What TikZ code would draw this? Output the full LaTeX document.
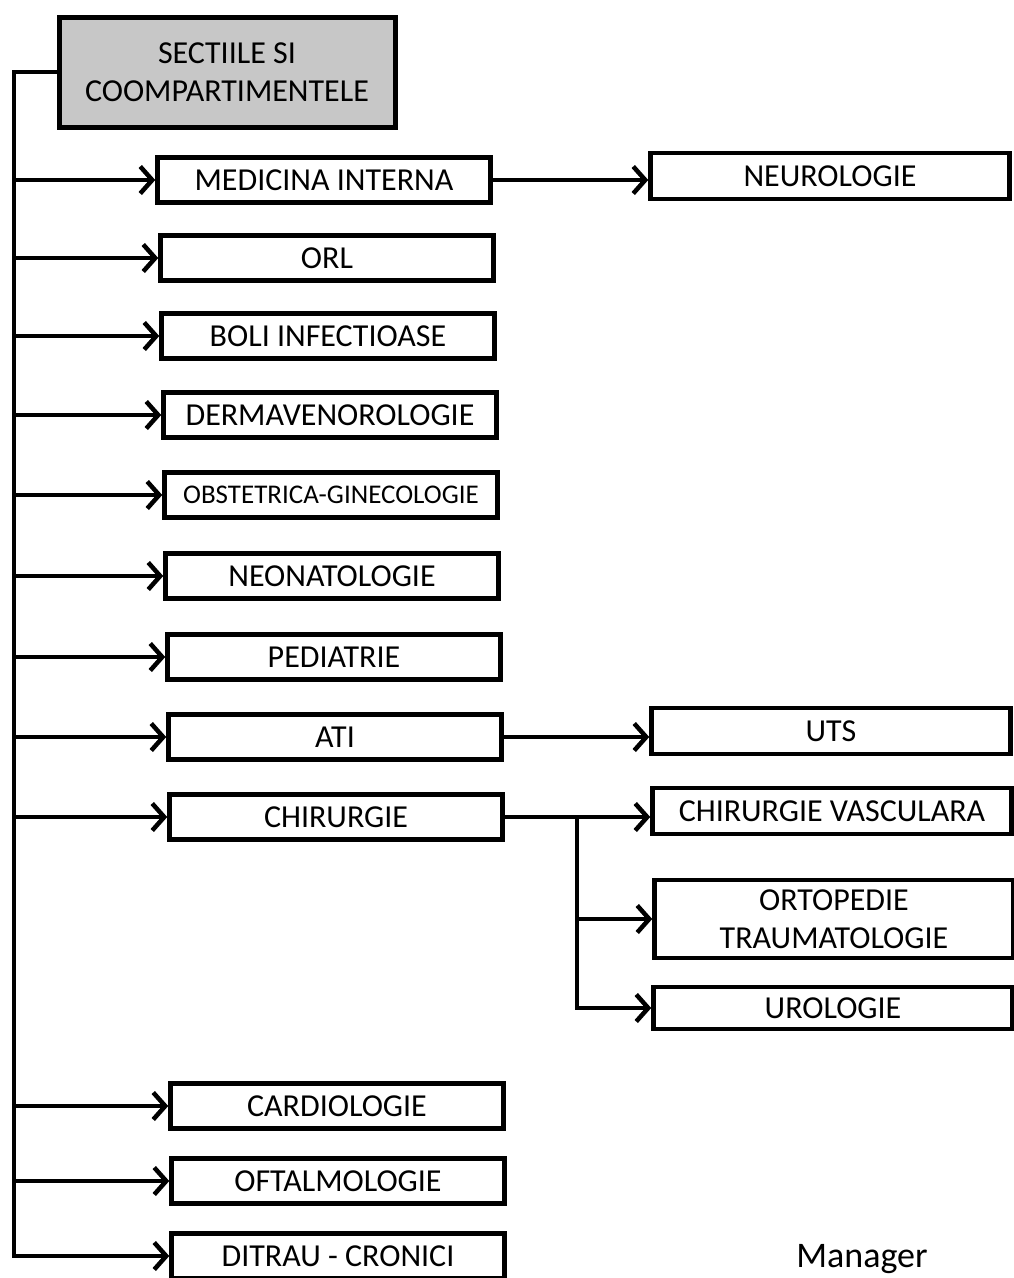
\documentclass[tikz,border=0pt]{standalone}
\usepackage{fontspec}
\setmainfont{Carlito}
\usetikzlibrary{arrows.meta}
\tikzstyle{chart}=[x=1pt, y=-1pt, line width=4.5pt, font=\fontsize{32}{38}\selectfont]
\tikzstyle{head}=[draw, line width=5pt, fill=black!22, minimum width=336pt, minimum height=110pt, align=center, inner sep=0pt]
\tikzstyle{sec}=[draw, line width=4.5pt, fill=white, minimum width=333pt, minimum height=45pt, inner sep=0pt]
\tikzstyle{sub}=[draw, line width=4.5pt, fill=white, minimum width=359pt, minimum height=46pt, inner sep=0pt, align=center]
\tikzstyle{link}=[-{Straight Barb[length=12pt,width=27pt]}, line width=4.5pt]
\tikzstyle{small}=[font=\fontsize{27}{32}\selectfont]

\begin{document}
\begin{tikzpicture}[chart]
\useasboundingbox (0,0) rectangle (1014,1278);

\draw (227,72) node[head] (head) {SECTIILE SI\\COOMPARTIMENTELE};

% sectii
\draw (324,180) node[sec] (medicina) {MEDICINA INTERNA};
\draw (327,258) node[sec] (orl) {ORL};
\draw (328,336) node[sec] (boli) {BOLI INFECTIOASE};
\draw (330,415) node[sec] (derma) {DERMAVENOROLOGIE};
\draw (331,495) node[sec, small] (obst) {OBSTETRICA-GINECOLOGIE};
\draw (332,576) node[sec] (neonat) {NEONATOLOGIE};
\draw (334,657) node[sec] (pediatrie) {PEDIATRIE};
\draw (335,737) node[sec] (ati) {ATI};
\draw (336,817) node[sec] (chirurgie) {CHIRURGIE};
\draw (337,1106) node[sec] (cardio) {CARDIOLOGIE};
\draw (338,1181) node[sec] (oftalm) {OFTALMOLOGIE};
\draw (338,1256) node[sec] (ditrau) {DITRAU - CRONICI};

% compartimente
\draw (830,176) node[sub] (neuro) {NEUROLOGIE};
\draw (831,731) node[sub] (uts) {UTS};
\draw (832,811) node[sub] (vasc) {CHIRURGIE VASCULARA};
\draw (834,919) node[sub, minimum height=78pt] (ortop) {ORTOPEDIE\\TRAUMATOLOGIE};
\draw (833,1008) node[sub, minimum height=42pt] (uro) {UROLOGIE};

\draw (862,1267) node[anchor=base, font=\fontsize{36}{40}\selectfont] (manager) {Manager};

\coordinate (spine) at (14,72);
\coordinate (fork) at (577,816);

\draw[link] (head.west) -- (spine) |- (ditrau.west);
\foreach \s in {medicina,orl,boli,derma,obst,neonat,pediatrie,ati,chirurgie,cardio,oftalm}
  \draw[link] (spine |- \s.west) -- (\s.west);

\draw[link] (medicina.east) -- (medicina.east -| neuro.west);
\draw[link] (ati.east) -- (ati.east -| uts.west);
\draw[link] (chirurgie.east) -- (chirurgie.east -| vasc.west);
\draw[link] (fork) |- (ortop.west);
\draw[link] (fork) |- (uro.west);
\end{tikzpicture}
\end{document}
